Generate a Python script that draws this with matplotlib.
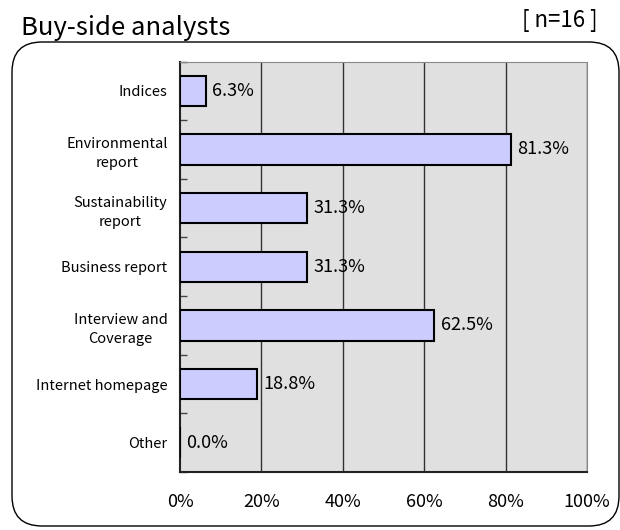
import matplotlib
matplotlib.use("Agg")
import matplotlib.pyplot as plt
from matplotlib.patches import FancyBboxPatch
import numpy as np

plt.rcParams['font.family'] = ['Noto Sans CJK JP', 'DejaVu Sans']

categories = ["Indices", "Environmental\nreport", "Sustainability\nreport",
              "Business report", "Interview and\nCoverage", "Internet homepage", "Other"]
values = [6.3, 81.3, 31.3, 31.3, 62.5, 18.8, 0.0]
xticks = [0, 20, 40, 60, 80, 100]
xticklabels = ["0%", "20%", "40%", "60%", "80%", "100%"]
title = "Buy-side analysts"
n_label = "[ n=16 ]"

fig = plt.figure(figsize=(6.2, 5.3), dpi=100)

# rounded frame (inches)
frame = FancyBboxPatch((0.12, 0.04), 6.07, 4.84,
                       boxstyle="round,pad=0,rounding_size=0.3",
                       transform=fig.dpi_scale_trans, facecolor='none',
                       edgecolor='black', linewidth=1.0, zorder=-1)
fig.patches.append(frame)

ax = fig.add_axes([180/620, 58/530, (587-180)/620, (468.5-58)/530])
ax.set_facecolor('#e0e0e0')
y = np.arange(len(categories))
ax.barh(y, values, height=0.52, color='#ccccff', edgecolor='black', linewidth=1.5, zorder=3)
ax.set_ylim(len(categories) - 0.5, -0.5)
ax.set_xlim(0, 100)
for xv in xticks[1:]:
    ax.axvline(xv, color='#333333', linewidth=1.0, zorder=2)
for yi, v in zip(y, values):
    ax.text(v + 1.6, yi, f"{v:.1f}%", va='center', ha='left', fontsize=13, zorder=4)

ax.set_yticks(y)
ax.set_yticklabels(categories, fontsize=10.5, linespacing=1.45, multialignment='center')
ax.tick_params(axis='y', length=0, pad=9)
ax.set_yticks(np.arange(len(categories) + 1) - 0.5, minor=True)
ax.tick_params(axis='y', which='minor', direction='in', length=5, width=1, color='#444444')
ax.set_xticks(xticks)
ax.set_xticklabels(xticklabels, fontsize=13)
ax.tick_params(axis='x', length=0, pad=15)
for s in ['top', 'right']:
    ax.spines[s].set_color('#888888')
for s in ['left', 'bottom']:
    ax.spines[s].set_color('#222222')
    ax.spines[s].set_linewidth(1.5)

fig.text(21/620, 1 - 35/530, title, fontsize=18.5, va='baseline', ha='left')
fig.text(598/620, 1 - 21/530, n_label, fontsize=16, va='center', ha='right')

fig.savefig("out.png", dpi=100)
